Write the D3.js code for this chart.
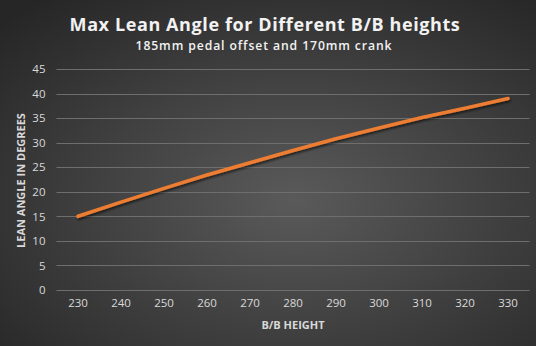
<!DOCTYPE html>
<html>
<head>
<meta charset="utf-8">
<script src="https://cdn.jsdelivr.net/npm/d3@7"></script>
<style>
  html, body { margin: 0; padding: 0; background: #333; }
  svg { display: block; }
  text { font-family: "Open Sans", "DejaVu Sans", sans-serif; }
</style>
</head>
<body>
<svg id="chart" width="536" height="346"></svg>
<script>
// B/B height (mm) and corresponding maximum lean angle (degrees)
const bbHeights = [230, 240, 250, 260, 270, 280, 290, 300, 310, 320, 330];
const leanAngles = [15, 17.9, 20.7, 23.4, 25.9, 28.4, 30.8, 33.0, 35.1, 37.0, 39.0];
const yTicks = [0, 5, 10, 15, 20, 25, 30, 35, 40, 45];

const titleText = "Max Lean Angle for Different B/B heights";
const subtitleText = "185mm pedal offset and 170mm crank";
const xTitle = "B/B HEIGHT";
const yTitle = "LEAN ANGLE IN DEGREES";

const W = 536, H = 346;
const plot = { left: 56.5, right: 529.5, top: 69, bottom: 290 };

const svg = d3.select("#chart");
const defs = svg.append("defs");

// Dark radial background
const grad = defs.append("radialGradient")
  .attr("id", "bg").attr("cx", "55%").attr("cy", "58%").attr("r", "75%");
grad.append("stop").attr("offset", "0%").attr("stop-color", "#5a5a5a");
grad.append("stop").attr("offset", "100%").attr("stop-color", "#262626");
svg.append("rect").attr("width", W).attr("height", H).attr("fill", "url(#bg)");

// Soft shadow under the series line
const shadow = defs.append("filter").attr("id", "shadow")
  .attr("x", "-10%").attr("y", "-10%").attr("width", "120%").attr("height", "130%");
shadow.append("feDropShadow").attr("dx", 1).attr("dy", 2).attr("stdDeviation", 1.2)
  .attr("flood-color", "#000").attr("flood-opacity", 0.55);

const x = d3.scaleBand().domain(bbHeights).range([plot.left, plot.right]);
const y = d3.scaleLinear().domain([0, 45]).range([plot.bottom, plot.top]);

// Horizontal gridlines
svg.append("g").selectAll("line").data(yTicks).join("line")
  .attr("x1", plot.left).attr("x2", plot.right)
  .attr("y1", d => Math.round(y(d)) + 0.5).attr("y2", d => Math.round(y(d)) + 0.5)
  .attr("stroke", "#6e6e6e").attr("stroke-width", 1);

// Y axis labels
const yAxis = d3.axisLeft(y).tickValues(yTicks).tickSize(0).tickPadding(0);
svg.append("g").attr("transform", `translate(${plot.left - 11},0)`).call(yAxis)
  .call(g => g.select(".domain").remove())
  .call(g => g.selectAll("text").attr("fill", "#d9d9d9").attr("font-size", 11.5)
    .attr("font-family", "'Open Sans', sans-serif"));

// X axis labels
const xAxis = d3.axisBottom(x).tickSize(0).tickPadding(0);
svg.append("g").attr("transform", `translate(0,${plot.bottom + 9})`).call(xAxis)
  .call(g => g.select(".domain").remove())
  .call(g => g.selectAll("text").attr("fill", "#d9d9d9").attr("font-size", 11.5)
    .attr("font-family", "'Open Sans', sans-serif"));

// Series line
const line = d3.line()
  .x((d, i) => x(bbHeights[i]) + x.bandwidth() / 2)
  .y(d => y(d));
svg.append("path").datum(leanAngles)
  .attr("d", line)
  .attr("fill", "none")
  .attr("stroke", "#ED7D31")
  .attr("stroke-width", 3.6)
  .attr("stroke-linecap", "round")
  .attr("stroke-linejoin", "round")
  .attr("filter", "url(#shadow)");

// Titles
svg.append("text").attr("x", 265).attr("y", 31).attr("text-anchor", "middle")
  .attr("fill", "#f2f2f2").attr("font-size", 18).attr("font-weight", 700)
  .attr("letter-spacing", 0.6).text(titleText);
svg.append("text").attr("x", 264).attr("y", 50).attr("text-anchor", "middle")
  .attr("fill", "#f2f2f2").attr("font-size", 12.2).attr("font-weight", 600)
  .attr("letter-spacing", 0.9).text(subtitleText);

// Axis titles
svg.append("text").attr("x", (plot.left + plot.right) / 2).attr("y", 329)
  .attr("text-anchor", "middle").attr("fill", "#d9d9d9")
  .attr("font-size", 11).attr("font-weight", 700).text(xTitle);
svg.append("text")
  .attr("transform", `translate(25,${(plot.top + plot.bottom) / 2 + 1}) rotate(-90)`)
  .attr("text-anchor", "middle").attr("fill", "#d9d9d9")
  .attr("font-size", 11).attr("font-weight", 700).text(yTitle);
</script>
</body>
</html>
